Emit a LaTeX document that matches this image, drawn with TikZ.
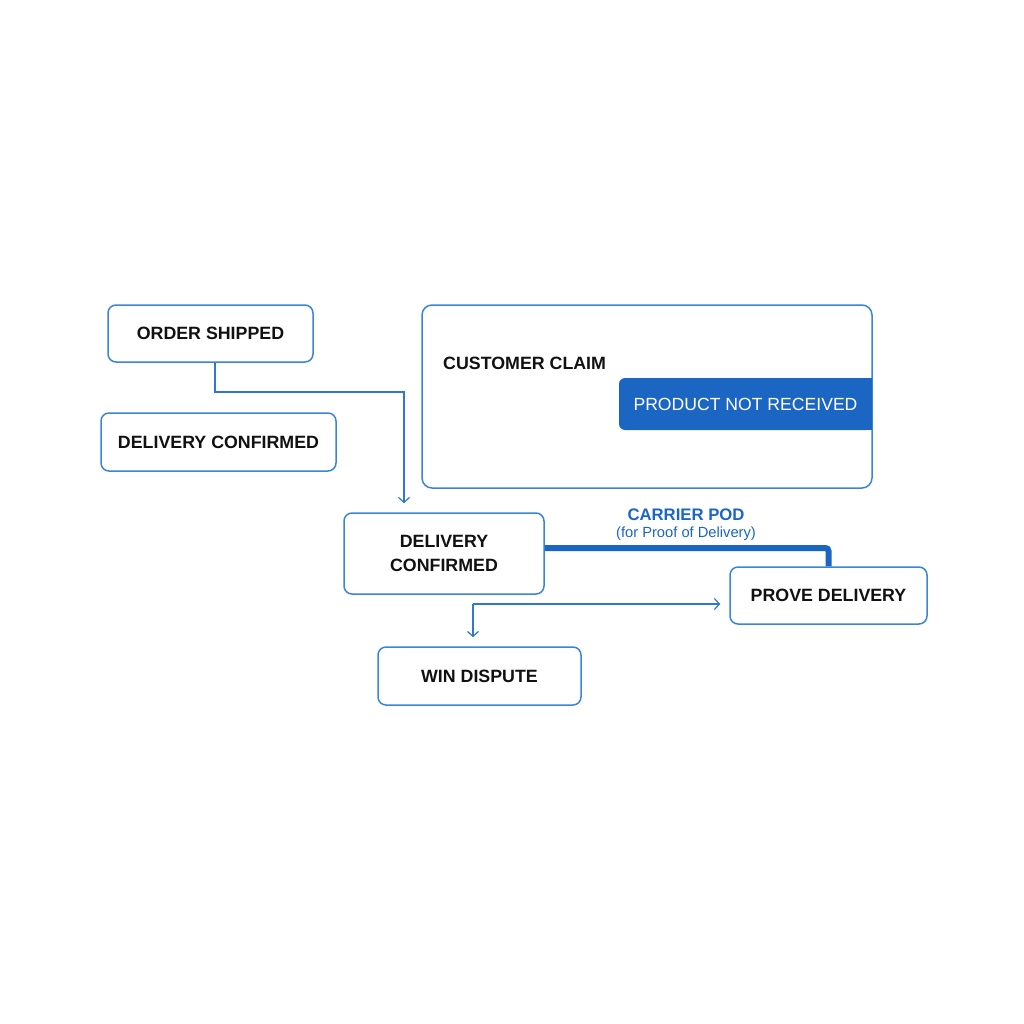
\documentclass[tikz,border=0pt]{standalone}
\usepackage{fontspec}
\setmainfont{Liberation Sans}
\usepackage{tikz}
\usetikzlibrary{positioning,arrows.meta,calc}
\definecolor{boxblue}{HTML}{3C85D6}
\definecolor{flowblue}{HTML}{2E78D2}
\definecolor{podblue}{HTML}{1B66C2}
\definecolor{inkblack}{HTML}{111111}

\begin{document}
\begin{tikzpicture}[
  x=1pt,y=-1pt,
  font=\fontsize{17.8}{24}\selectfont\bfseries,
  stepbox/.style={rectangle,rounded corners=8pt,draw=boxblue,line width=1.5pt,fill=white,text=inkblack,align=center,inner sep=0pt},
  claimbox/.style={rectangle,rounded corners=10pt,draw=boxblue,line width=1.5pt,fill=white,minimum width=450pt,minimum height=183pt},
  pnrbox/.style={rectangle,rounded corners=6pt,fill=podblue,minimum width=253pt,minimum height=52pt,inner sep=0pt},
  flow/.style={-{Straight Barb[length=5pt,width=11pt]},line width=1.2pt,flowblue,shorten >=9pt},
  podline/.style={line width=6pt,podblue,rounded corners=3pt},
  podlabel/.style={text=podblue,inner sep=0pt},
]
\useasboundingbox[fill=white] (0,0) rectangle (1024,1024);

% Left column
\node[stepbox,minimum width=205pt,minimum height=57pt] (shipped) at (210.5,333.5) {ORDER SHIPPED};
\node[stepbox,minimum width=235pt,minimum height=58pt] (confleft) at (218.5,442) {DELIVERY CONFIRMED};

% Customer claim panel
\node[claimbox] (claim) at (647,396.5) {};
\node[text=inkblack,anchor=west,inner sep=0pt] (claimlbl) at (443,363) {CUSTOMER CLAIM};
\node[pnrbox] (pnr) at (745.5,404) {};
\fill[podblue] (pnr.north) rectangle (pnr.south east);
\node[text=white,font=\fontsize{17.6}{21}\selectfont,inner sep=0pt] (pnrlbl) at (pnr) {PRODUCT NOT RECEIVED};

% Middle and right steps
\node[stepbox,minimum width=200pt,minimum height=81pt] (confmid) at (444,553.5) {DELIVERY\\CONFIRMED};
\node[stepbox,minimum width=197pt,minimum height=57pt] (prove) at (828.5,595.5) {PROVE DELIVERY};
\node[stepbox,minimum width=203pt,minimum height=58pt] (win) at (479.5,676) {WIN DISPUTE};

% Connectors
\coordinate (bend) at (404,392);
\draw[flow] ([xshift=4.5pt]shipped.south) |- (bend) -- (bend |- confmid.north);

\draw[podline] ([yshift=5.5pt]confmid.east) -| (prove.north);
\node[podlabel,font=\fontsize{16.7}{20}\selectfont\bfseries] (podlbl) at (686,515) {CARRIER POD};
\node[podlabel,font=\fontsize{14.7}{18}\selectfont] (podsub) at (686,534) {(for Proof of Delivery)};

\coordinate (split) at (473,604);
\draw[flow] (split) -- (split -| prove.west);
\draw[flow] (split) -- (split |- win.north);
\end{tikzpicture}
\end{document}
